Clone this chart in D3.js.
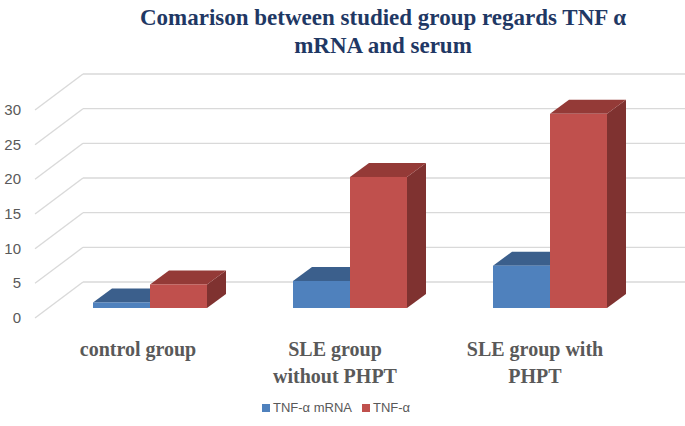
<!DOCTYPE html>
<html><head><meta charset="utf-8">
<script src="https://cdn.jsdelivr.net/npm/d3@7"></script>
<style>body{margin:0;background:#fff}</style>
</head><body><svg id="chart" width="685" height="426"></svg>
<script>
// data
const categories = [["control group"], ["SLE group", "without PHPT"], ["SLE group with", "PHPT"]];
const seriesNames = ["TNF-α mRNA", "TNF-α"];
const mrna = [0.8, 3.9, 6.1];
const serum = [3.4, 18.9, 28.0];
const ticks = [0, 5, 10, 15, 20, 25, 30];

const colors = [
  {front: "#4f81bd", top: "#3b5f8c", side: "#385d8a"},
  {front: "#c0504d", top: "#943a37", side: "#7f3230"}
];

const svg = d3.select("#chart");
const w = 685;

// 3D offsets (full depth of the floor)
const depthX = 48, depthY = -36;
// front y scale
const y = d3.scaleLinear().domain([0, 30]).range([318, 110]);
const x = d3.scaleBand().domain(d3.range(categories.length)).range([93, 693]).paddingInner(0).paddingOuter(0);
const barW = 57, barDx = 19, barDy = -14, barFrontOff = 10;

//gridlines: front-left diagonal + back wall
const grid = svg.append("g").style("stroke", "#d9d9d9").style("stroke-width", 1.3).style("fill", "none");
grid.selectAll(".diag").data(ticks).enter().append("line")
  .attr("x1", 35).attr("y1", d => y(d))
  .attr("x2", 35 + depthX).attr("y2", d => y(d) + depthY);
grid.selectAll(".back").data(ticks).enter().append("line")
  .attr("x1", 35 + depthX).attr("y1", d => y(d) + depthY)
  .attr("x2", w).attr("y2", d => y(d) + depthY);

svg.append("g").selectAll("text").data(ticks).enter().append("text")
  .attr("x", 21).attr("y", d => y(d) + 5)
  .attr("text-anchor", "end")
  .style("font-family", "Liberation Sans Narrow, Arial Narrow, Liberation Sans, sans-serif")
  .style("font-size", "15px").style("fill", "#595959")
  .text(d => d);

// bars
const base = y(0) - barFrontOff;
const yb = d3.scaleLinear().domain([0, 30]).range([0, y(0) - y(30)]);
[mrna, serum].forEach((vals, si) => {
  const c = colors[si];
  vals.forEach((v, i) => {
    const x0 = x(i) + si * barW, h = yb(v), top = base - h;
    const g = svg.append("g");
    g.append("polygon").attr("fill", c.side)
      .attr("points", [[x0 + barW, top], [x0 + barW + barDx, top + barDy], [x0 + barW + barDx, base + barDy], [x0 + barW, base]].join(" "));
    g.append("polygon").attr("fill", c.top)
      .attr("points", [[x0, top], [x0 + barDx, top + barDy], [x0 + barW + barDx, top + barDy], [x0 + barW, top]].join(" "));
    g.append("rect").attr("fill", c.front)
      .attr("x", x0).attr("y", top).attr("width", barW).attr("height", h);
  });
});

// category labels
const labX = [138, 335, 535];
categories.forEach((lines, i) => {
  const t = svg.append("text").attr("text-anchor", "middle")
    .style("font-family", "Liberation Serif, Times New Roman, serif")
    .style("font-weight", "bold").style("font-size", "20px").style("fill", "#595959");
  lines.forEach((l, j) => t.append("tspan").attr("x", labX[i]).attr("y", 356 + j * 27).text(l));
});

// title
const title = svg.append("text").attr("text-anchor", "middle")
  .style("font-family", "Liberation Serif, Times New Roman, serif")
  .style("font-weight", "bold").style("font-size", "23px").style("fill", "#1f3864");
title.append("tspan").attr("x", 383).attr("y", 25).text("Comarison  between studied group  regards  TNF α");
title.append("tspan").attr("x", 383).attr("y", 53).text("mRNA and serum");

// legend
const leg = svg.append("g").selectAll("g").data(seriesNames).enter().append("g")
  .attr("transform", (d, i) => `translate(${[262, 362][i]},404)`);
leg.append("rect").attr("width", 8).attr("height", 8).attr("fill", (d, i) => colors[i].front);
leg.append("text").attr("x", 11).attr("y", 8)
  .style("font-family", "Liberation Sans Narrow, Liberation Sans, sans-serif")
  .style("font-size", "13px").style("fill", "#595959").text(d => d);
</script></body></html>
